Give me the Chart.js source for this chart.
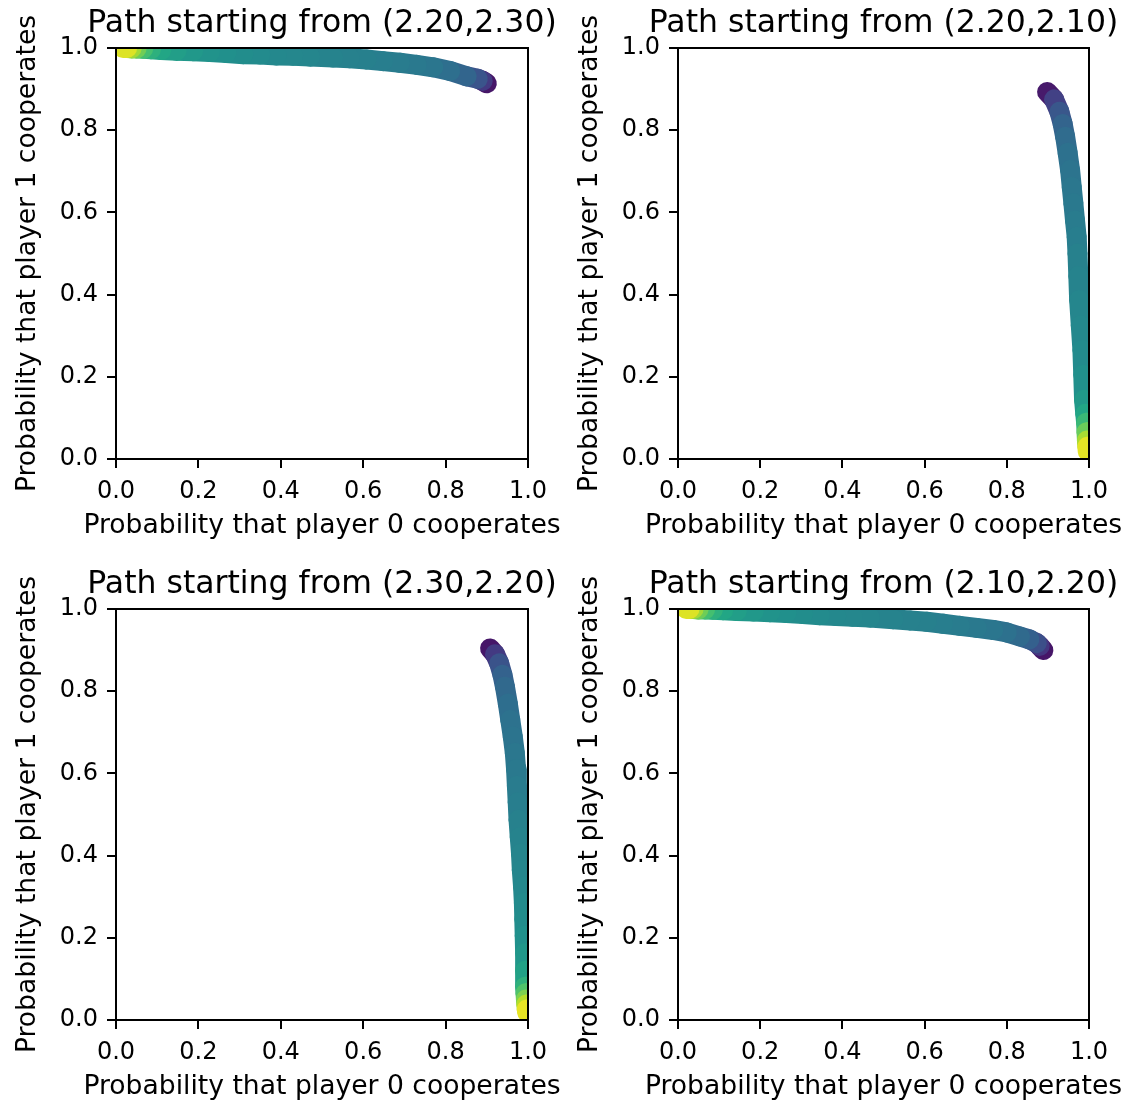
<!DOCTYPE html>
<html>
<head>
<meta charset="utf-8">
<script src="https://cdn.jsdelivr.net/npm/chart.js@4.4.1/dist/chart.umd.min.js"></script>
<style>
  html, body { margin: 0; padding: 0; background: #fff; overflow: hidden; width: 1141px; height: 1101px; }
  canvas { position: absolute; }
</style>
</head>
<body>
<canvas id="c1" width="560" height="550" style="left:0px;top:0px"></canvas>
<canvas id="c2" width="560" height="550" style="left:562px;top:0px"></canvas>
<canvas id="c3" width="560" height="550" style="left:0px;top:561px"></canvas>
<canvas id="c4" width="560" height="550" style="left:562px;top:561px"></canvas>
<script>
// titles of the four panels
const titles = [
  "Path starting from (2.20,2.30)",
  "Path starting from (2.20,2.10)",
  "Path starting from (2.30,2.20)",
  "Path starting from (2.10,2.20)"
];
const xLabel = "Probability that player 0 cooperates";
const yLabel = "Probability that player 1 cooperates";
const tickValues = [0, 0.2, 0.4, 0.6, 0.8, 1.0];

// panel 1 (top left)
const p1X = [0.900, 0.890, 0.878, 0.851, 0.811, 0.770, 0.730, 0.689, 0.648, 0.608, 0.567, 0.527, 0.471, 0.430, 0.390, 0.350, 0.309, 0.268, 0.228, 0.187, 0.147, 0.110, 0.085, 0.066, 0.050, 0.038, 0.027, 0.017];
const p1Y = [0.914, 0.920, 0.925, 0.931, 0.944, 0.953, 0.959, 0.964, 0.968, 0.972, 0.975, 0.977, 0.979, 0.981, 0.982, 0.984, 0.985, 0.988, 0.990, 0.992, 0.993, 0.995, 0.997, 0.998, 0.999, 0.999, 1.000, 1.000];
const p1C = [0.00, 0.12, 0.22, 0.30, 0.35, 0.38, 0.40, 0.41, 0.42, 0.43, 0.43, 0.44, 0.45, 0.46, 0.46, 0.47, 0.48, 0.49, 0.50, 0.52, 0.54, 0.57, 0.61, 0.66, 0.74, 0.82, 0.90, 1.00];

// panel 2 (top right)
const p2X = [0.898, 0.915, 0.928, 0.936, 0.942, 0.948, 0.954, 0.958, 0.962, 0.966, 0.970, 0.972, 0.974, 0.976, 0.980, 0.984, 0.986, 0.988, 0.991, 0.993, 0.994, 0.995, 0.996, 0.997];
const p2Y = [0.893, 0.875, 0.845, 0.815, 0.784, 0.745, 0.703, 0.662, 0.622, 0.580, 0.541, 0.500, 0.445, 0.387, 0.325, 0.265, 0.205, 0.144, 0.110, 0.088, 0.065, 0.045, 0.030, 0.018];
const p2C = [0.00, 0.14, 0.24, 0.30, 0.34, 0.36, 0.38, 0.39, 0.40, 0.41, 0.42, 0.43, 0.44, 0.45, 0.46, 0.47, 0.48, 0.51, 0.56, 0.62, 0.72, 0.82, 0.92, 1.00];

// panel 3 (bottom left)
const p3X = [0.908, 0.920, 0.930, 0.938, 0.944, 0.951, 0.957, 0.963, 0.968, 0.971, 0.973, 0.975, 0.977, 0.980, 0.983, 0.985, 0.988, 0.990, 0.991, 0.992, 0.993, 0.993, 0.993, 0.994, 0.995, 0.996, 0.997, 0.998];
const p3Y = [0.904, 0.890, 0.868, 0.840, 0.811, 0.770, 0.730, 0.690, 0.650, 0.610, 0.570, 0.530, 0.487, 0.445, 0.405, 0.365, 0.324, 0.285, 0.245, 0.205, 0.163, 0.120, 0.081, 0.065, 0.050, 0.038, 0.026, 0.018];
const p3C = [0.00, 0.12, 0.22, 0.29, 0.33, 0.35, 0.37, 0.38, 0.39, 0.40, 0.41, 0.42, 0.43, 0.44, 0.45, 0.45, 0.46, 0.47, 0.48, 0.49, 0.51, 0.54, 0.60, 0.68, 0.76, 0.85, 0.93, 1.00];

// panel 4 (bottom right)
const p4X = [0.889, 0.880, 0.873, 0.855, 0.832, 0.800, 0.767, 0.727, 0.686, 0.645, 0.605, 0.565, 0.524, 0.467, 0.425, 0.385, 0.345, 0.304, 0.264, 0.224, 0.184, 0.143, 0.110, 0.085, 0.066, 0.050, 0.038, 0.028, 0.020];
const p4Y = [0.900, 0.910, 0.917, 0.926, 0.933, 0.943, 0.949, 0.954, 0.959, 0.964, 0.969, 0.972, 0.975, 0.979, 0.981, 0.983, 0.985, 0.988, 0.990, 0.992, 0.994, 0.995, 0.997, 0.998, 0.999, 0.999, 1.000, 1.000, 1.000];
const p4C = [0.00, 0.12, 0.20, 0.28, 0.33, 0.36, 0.38, 0.40, 0.41, 0.42, 0.43, 0.43, 0.44, 0.45, 0.46, 0.46, 0.47, 0.48, 0.49, 0.50, 0.52, 0.54, 0.57, 0.61, 0.66, 0.74, 0.82, 0.90, 1.00];

// viridis colour map
const viridis = ["#440154", "#482475", "#414487", "#355f8d", "#2a788e", "#21918c", "#22a884", "#44bf70", "#7ad151", "#bddf26", "#fde725"];

function hexToRgb(h) {
  return [parseInt(h.slice(1, 3), 16), parseInt(h.slice(3, 5), 16), parseInt(h.slice(5, 7), 16)];
}

function viridisAt(t) {
  t = Math.max(0, Math.min(1, t));
  const p = t * (viridis.length - 1);
  const i = Math.min(Math.floor(p), viridis.length - 2);
  const f = p - i;
  const a = hexToRgb(viridis[i]);
  const b = hexToRgb(viridis[i + 1]);
  const c = a.map((v, k) => Math.round(v + (b[k] - v) * f));
  return `rgb(${c[0]},${c[1]},${c[2]})`;
}

const fontFamily = '"DejaVu Sans", sans-serif';

// frame on all four sides, title above the axes, x label below
const framePlugin = {
  id: "frame",
  afterDatasetsDraw(chart, args, opts) {
    const a = chart.chartArea;
    const ctx = chart.ctx;
    const cx = (a.left + a.right) / 2;
    ctx.save();
    ctx.strokeStyle = "#000";
    ctx.lineWidth = 2;
    ctx.strokeRect(a.left, a.top, a.right - a.left, a.bottom - a.top);
    ctx.fillStyle = "#000";
    ctx.textAlign = "center";
    ctx.font = "31.5px " + fontFamily;
    ctx.textBaseline = "alphabetic";
    ctx.fillText(opts.text, cx, a.top - 16);
    ctx.font = "26.6px " + fontFamily;
    ctx.textBaseline = "middle";
    ctx.fillText(xLabel, cx, a.bottom + 67);
    ctx.restore();
  }
};

function axis(isY) {
  return {
    type: "linear",
    min: 0,
    max: 1,
    afterBuildTicks: (scale) => {
      scale.ticks = tickValues.map((v) => ({ value: v }));
    },
    afterFit: (scale) => {
      if (isY) scale.width = 116;
      else scale.height = 91;
    },
    ticks: {
      color: "#000",
      padding: 9,
      maxRotation: 0,
      font: { family: fontFamily, size: 24 },
      callback: (v) => Number(v).toFixed(1)
    },
    grid: {
      drawOnChartArea: false,
      drawTicks: true,
      tickLength: 9,
      color: "#000",
      lineWidth: 2
    },
    border: { display: false },
    title: {
      display: isY,
      text: yLabel,
      color: "#000",
      font: { family: fontFamily, size: 26.6 },
      padding: { top: 12, bottom: 0 }
    }
  };
}

function makePanel(id, title, xs, ys, cs, rightPad) {
  const points = xs.map((x, i) => ({ x: x, y: ys[i] }));
  new Chart(document.getElementById(id), {
    type: "line",
    data: {
      datasets: [{
        data: points,
        borderWidth: 20,
        borderCapStyle: "round",
        borderJoinStyle: "round",
        borderColor: viridisAt(0),
        pointRadius: 0,
        tension: 0,
        clip: { left: 0, top: 0, right: 0, bottom: 0 },
        segment: {
          borderColor: (ctx) => viridisAt((cs[ctx.p0DataIndex] + cs[ctx.p1DataIndex]) / 2)
        }
      }]
    },
    options: {
      responsive: false,
      animation: false,
      devicePixelRatio: 1,
      layout: { padding: { left: 0, top: 48, right: rightPad, bottom: 0 } },
      plugins: {
        legend: { display: false },
        tooltip: { enabled: false },
        frame: { text: title }
      },
      scales: {
        x: axis(false),
        y: axis(true)
      }
    },
    plugins: [framePlugin]
  });
}

makePanel("c1", titles[0], p1X, p1Y, p1C, 32);
makePanel("c2", titles[1], p2X, p2Y, p2C, 33);
makePanel("c3", titles[2], p3X, p3Y, p3C, 32);
makePanel("c4", titles[3], p4X, p4Y, p4C, 33);
</script>
</body>
</html>
